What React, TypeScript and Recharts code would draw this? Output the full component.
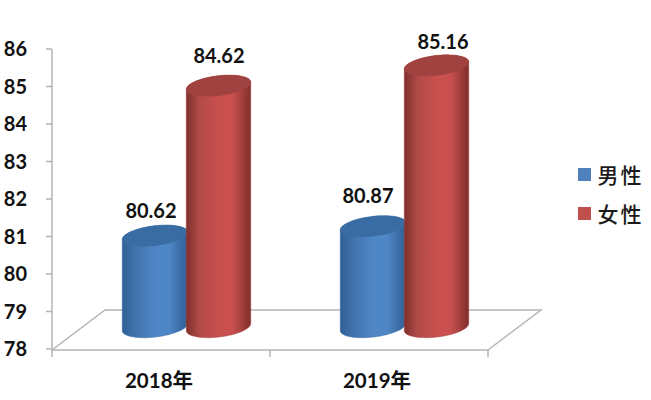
import React from "react";
import { BarChart, Bar, XAxis, YAxis, Legend, LabelList, usePlotArea } from "recharts";

const categories = ["2018年", "2019年"];
const maleValues = [80.62, 80.87];
const femaleValues = [84.62, 85.16];
const yTicks = [78, 79, 80, 81, 82, 83, 84, 85, 86];
const seriesNames = ["男性", "女性"];

const data = categories.map((name, i) => ({ name, male: maleValues[i], female: femaleValues[i] }));

const FONT = 'Lato, "Noto Sans CJK SC", sans-serif';
const AXIS = "#b4b4b4";
const DEPTH_X = 25;
const TOP_LIFT = 15;
const BASE_LIFT = 22;

const maleLabelShift = [{ dx: -3, dy: -41 }, { dx: -4, dy: -46 }];
const femaleLabelShift = [{ dx: 1, dy: -46 }, { dx: 7, dy: -40 }];

function Gradient({ id, edge, mid, top }: any) {
  return (
    <linearGradient id={id} x1="0" y1="0" x2="1" y2="0">
      <stop offset="0" stopColor={edge} />
      <stop offset="0.2" stopColor={top} />
      <stop offset="0.5" stopColor={mid} />
      <stop offset="0.72" stopColor={mid} />
      <stop offset="1" stopColor={edge} />
    </linearGradient>
  );
}

const TILT = (-7 * Math.PI) / 180;
const RY = 10;

function halfEllipse(cx: number, cy: number, rx: number, from: number, to: number) {
  const pts: string[] = [];
  for (let i = 0; i <= 32; i++) {
    const t = from + ((to - from) * i) / 32;
    const px = cx + rx * Math.cos(t) * Math.cos(TILT) - RY * Math.sin(t) * Math.sin(TILT);
    const py = cy + rx * Math.cos(t) * Math.sin(TILT) + RY * Math.sin(t) * Math.cos(TILT);
    pts.push(`${px.toFixed(2)},${py.toFixed(2)}`);
  }
  return pts;
}

function Cylinder(props: any) {
  const { x, y, width, height, fillId, capFill, rimFill } = props;
  const w = width + (fillId === "redBody" ? 1 : 2);
  const cx = x + DEPTH_X + w / 2;
  const topY = y - TOP_LIFT;
  const baseY = y + height - BASE_LIFT;
  const rx = w / 2;
  const baseLower = halfEllipse(cx, baseY, rx, Math.PI, 0);
  const topUpper = halfEllipse(cx, topY, rx, 0, -Math.PI);
  const topLower = halfEllipse(cx, topY, rx, 0, Math.PI);
  const body = `M${baseLower.join(" L")} L${topUpper.join(" L")} Z`;
  const cap = `M${topLower.join(" L")} L${topUpper.join(" L")} Z`;
  return (
    <g>
      <path d={body} fill={`url(#${fillId})`} stroke={rimFill} strokeWidth={0.5} />
      <path d={cap} fill={capFill} />
    </g>
  );
}

function Floor() {
  const plot = usePlotArea();
  if (!plot) return null;
  const l = plot.x;
  const r = plot.x + plot.width;
  const b = plot.y + plot.height + 1;
  const dx = 53;
  const dy = 40;
  const mid = (l + r) / 2;
  return (
    <g stroke={AXIS} strokeWidth={1.5} fill="none">
      <polyline points={`${l},${b} ${l + dx},${b - dy} ${r + dx},${b - dy} ${r},${b}`} />
      <line x1={l} y1={b} x2={r} y2={b} />
      {[l, mid, r].map((tx) => (
        <line key={tx} x1={tx} y1={b} x2={tx} y2={b + 7} />
      ))}
    </g>
  );
}

function makeLabel(shifts: { dx: number; dy: number }[]) {
  return function DataLabel(props: any) {
    const { x, y, width, value, index } = props;
    const s = shifts[index];
    return (
      <text
        x={x + width / 2 + DEPTH_X + s.dx}
        y={y + s.dy}
        textAnchor="middle"
        dominantBaseline="central"
        fontFamily={FONT}
        fontWeight={700}
        fontSize={20}
        fill="#111"
      >
        {value.toFixed(2)}
      </text>
    );
  };
}

function LegendBox({ payload }: any) {
  const items = [...(payload || [])].sort(
    (a: any, b: any) => seriesNames.indexOf(a.value) - seriesNames.indexOf(b.value)
  );
  return (
    <div style={{ fontFamily: '"Noto Sans CJK SC", sans-serif' }}>
      {items.map((p: any) => (
        <div key={p.value} style={{ display: "flex", alignItems: "center", height: 39 }}>
          <span style={{ width: 12.5, height: 12.5, background: p.color, marginRight: 7, display: "block" }} />
          <span style={{ fontSize: 21, fontWeight: 500, letterSpacing: 2, color: "#1a1a1a", lineHeight: "39px" }}>{p.value}</span>
        </div>
      ))}
    </div>
  );
}

export default function App() {
  return (
    <div style={{ position: "absolute", left: 0, top: 0, width: 651, height: 400, background: "#fff" }}>
      <BarChart
        width={651}
        height={400}
        data={data}
        margin={{ top: 49, right: 89, bottom: 21, left: 0 }}
        barGap={0}
        barSize={64}
      >
        <defs>
          <Gradient id="blueBody" edge="#2f5f94" top="#4173ab" mid="#4f86c6" />
          <Gradient id="redBody" edge="#7f2f2d" top="#b04a47" mid="#c9504e" />
        </defs>
        <Floor />
        <XAxis
          dataKey="name"
          axisLine={false}
          tickLine={false}
          tickMargin={18}
          interval={0}
          tick={{ dx: -2, fontFamily: FONT, fontWeight: 700, fontSize: 20.5, fill: "#111" }}
        />
        <YAxis
          width={52}
          domain={[78, 86]}
          ticks={yTicks}
          interval={0}
          tickSize={6}
          tickMargin={19}
          stroke={AXIS}
          strokeWidth={1.5}
          tick={{ fontFamily: FONT, fontWeight: 700, fontSize: 20, fill: "#111" }}
        />
        <Legend
          layout="vertical"
          align="right"
          verticalAlign="top"
          width={74}
          wrapperStyle={{ left: 578, top: 155, right: "auto" }}
          content={<LegendBox />}
        />
        <Bar
          dataKey="male"
          name={seriesNames[0]}
          fill="#4f81bd"
          isAnimationActive={false}
          shape={<Cylinder fillId="blueBody" capFill="#3a6ca4" rimFill="#3d6fa8" />}
        >
          <LabelList dataKey="male" content={makeLabel(maleLabelShift)} />
        </Bar>
        <Bar
          dataKey="female"
          name={seriesNames[1]}
          fill="#c0504d"
          isAnimationActive={false}
          shape={<Cylinder fillId="redBody" capFill="#a04240" rimFill="#a84340" />}
        >
          <LabelList dataKey="female" content={makeLabel(femaleLabelShift)} />
        </Bar>
      </BarChart>
    </div>
  );
}
